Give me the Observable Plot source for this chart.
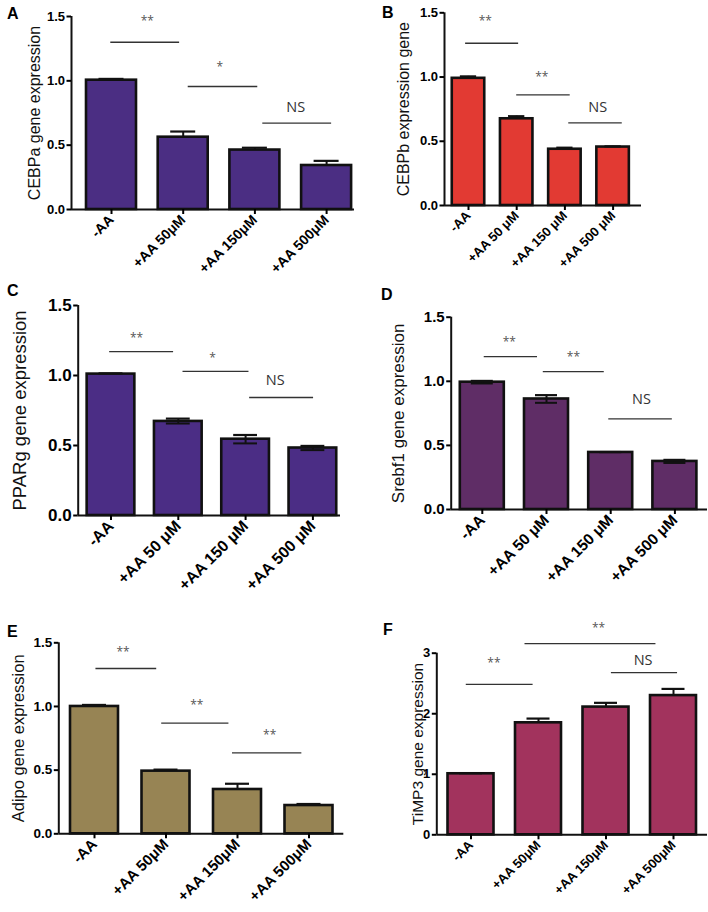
<!DOCTYPE html>
<html><head><meta charset="utf-8">
<script src="https://cdn.jsdelivr.net/npm/d3@7"></script>
<script src="https://cdn.jsdelivr.net/npm/@observablehq/plot@0.6"></script>
<style>
body{margin:0;background:#fff;}
#fig{position:relative;width:708px;height:912px;background:#fff;overflow:hidden;font-family:"Liberation Sans",Arial,sans-serif;}
.panel{position:absolute;}
.panel svg{overflow:visible;}
.letter{position:absolute;font:bold 16px "Liberation Sans",Arial,sans-serif;line-height:16px;color:#000;}
</style></head><body><div id="fig"></div>
<script>
// ---- categories ----
const groupsTight = ["-AA", "+AA 50μM", "+AA 150μM", "+AA 500μM"];
const groupsSpaced = ["-AA", "+AA 50 μM", "+AA 150 μM", "+AA 500 μM"];

// ---- series values (mean, upper error, lower error) ----
const cebpaMean = [1.005, 0.562, 0.462, 0.342];
const cebpaErrUp = [0.01, 0.044, 0.018, 0.036];
const cebpaErrLow = [0, 0, 0, 0];

const cebpbMean = [0.99, 0.675, 0.438, 0.455];
const cebpbErrUp = [0.015, 0.02, 0.012, 0.005];
const cebpbErrLow = [0, 0, 0, 0];

const ppargMean = [1.01, 0.672, 0.545, 0.482];
const ppargErrUp = [0.005, 0.02, 0.03, 0.015];
const ppargErrLow = [0, 0.015, 0.03, 0.015];

const srebf1Mean = [0.993, 0.862, 0.445, 0.375];
const srebf1ErrUp = [0.01, 0.03, 0.003, 0.012];
const srebf1ErrLow = [0.01, 0.03, 0, 0.012];

const adipoMean = [1.0, 0.492, 0.348, 0.222];
const adipoErrUp = [0.012, 0.012, 0.045, 0.012];
const adipoErrLow = [0, 0, 0, 0];

const timp3Mean = [1.008, 1.85, 2.11, 2.30];
const timp3ErrUp = [0.01, 0.07, 0.07, 0.11];
const timp3ErrLow = [0, 0, 0, 0];

// ---- significance annotations: from / to (category index), line value, label, label x, label value ----
const sigA = [
  {from: -0.01, to: 0.95, y: 1.30, label: "**", tx: 0.50, ty: 1.49},
  {from: 1.07, to: 2.04, y: 0.956, label: "*", tx: 1.51, ty: 1.13},
  {from: 2.11, to: 3.07, y: 0.671, label: "NS", tx: 2.57, ty: 0.79}
];
const sigB = [
  {from: -0.06, to: 1.04, y: 1.263, label: "**", tx: 0.35, ty: 1.455},
  {from: 1.00, to: 2.11, y: 0.861, label: "**", tx: 1.52, ty: 1.02},
  {from: 2.08, to: 3.19, y: 0.643, label: "NS", tx: 2.68, ty: 0.765}
];
const sigC = [
  {from: -0.02, to: 0.93, y: 1.171, label: "**", tx: 0.38, ty: 1.286},
  {from: 1.07, to: 2.05, y: 1.029, label: "*", tx: 1.51, ty: 1.143},
  {from: 2.06, to: 3.01, y: 0.843, label: "NS", tx: 2.44, ty: 0.964}
];
const sigD = [
  {from: 0.03, to: 0.86, y: 1.193, label: "**", tx: 0.42, ty: 1.33},
  {from: 0.95, to: 1.90, y: 1.076, label: "**", tx: 1.42, ty: 1.215},
  {from: 1.97, to: 2.96, y: 0.707, label: "NS", tx: 2.48, ty: 0.856}
];
const sigE = [
  {from: 0.02, to: 0.87, y: 1.298, label: "**", tx: 0.40, ty: 1.453},
  {from: 0.94, to: 1.88, y: 0.869, label: "**", tx: 1.43, ty: 1.034},
  {from: 1.93, to: 2.90, y: 0.636, label: "**", tx: 2.45, ty: 0.798}
];
const sigF = [
  {from: -0.07, to: 0.92, y: 2.484, label: "**", tx: 0.34, ty: 2.88},
  {from: 0.80, to: 2.74, y: 3.157, label: "**", tx: 1.89, ty: 3.46},
  {from: 2.08, to: 3.06, y: 2.678, label: "NS", tx: 2.55, ty: 2.88}
];

// ---- tick values ----
const ticks15 = [0, 0.5, 1.0, 1.5];
const ticks3 = [0, 1, 2, 3];

// ---- panels (layout & style) ----
const panels = [
  {letter: "A", lx: 7, lb: 19, groups: groupsTight, mean: cebpaMean, up: cebpaErrUp, low: cebpaErrLow, sig: sigA,
   color: "#4b2e83", ylabel: "CEBPa gene expression", yMax: 1.5, yTicks: ticks15, fmt: ".1f",
   left: 0, top: 0, width: 354, height: 300, axisX: 71, axisEnd: 354, y0: 209, yTop: 16, c0: 111, step: 71.7, barW: 50,
   yLab: 16, yLabX: 28, yTick: 13, xTick: 14},
  {letter: "B", lx: 382, lb: 18, groups: groupsSpaced, mean: cebpbMean, up: cebpbErrUp, low: cebpbErrLow, sig: sigB,
   color: "#e23a33", ylabel: "CEBPb expression gene", yMax: 1.5, yTicks: ticks15, fmt: ".1f",
   left: 354, top: 0, width: 354, height: 290, axisX: 444, axisEnd: 641, y0: 205, yTop: 12.3, c0: 468, step: 48.2, barW: 32.5,
   yLab: 16, yLabX: 397, yTick: 13, xTick: 13},
  {letter: "C", lx: 7, lb: 296, groups: groupsSpaced, mean: ppargMean, up: ppargErrUp, low: ppargErrLow, sig: sigC,
   color: "#4b2d85", ylabel: "PPARg gene expression", yMax: 1.5, yTicks: ticks15, fmt: ".1f",
   left: 0, top: 290, width: 354, height: 310, axisX: 77.7, axisEnd: 340, y0: 515, yTop: 305, c0: 110.5, step: 67.3, barW: 47.7,
   yLab: 18.5, yLabX: 12, yTick: 17, xTick: 16},
  {letter: "D", lx: 381, lb: 300, groups: groupsSpaced, mean: srebf1Mean, up: srebf1ErrUp, low: srebf1ErrLow, sig: sigD,
   color: "#5f2d66", ylabel: "Srebf1 gene expression", yMax: 1.5, yTicks: ticks15, fmt: ".1f",
   left: 354, top: 290, width: 354, height: 310, axisX: 450.7, axisEnd: 707, y0: 509, yTop: 316.7, c0: 481.8, step: 64.2, barW: 44,
   yLab: 17, yLabX: 391, yTick: 15, xTick: 15.5},
  {letter: "E", lx: 7, lb: 637, groups: groupsTight, mean: adipoMean, up: adipoErrUp, low: adipoErrLow, sig: sigE,
   color: "#978454", ylabel: "Adipo gene expression", yMax: 1.5, yTicks: ticks15, fmt: ".1f",
   left: 0, top: 600, width: 354, height: 312, axisX: 58.3, axisEnd: 343.3, y0: 833.3, yTop: 642.3, c0: 94, step: 71.5, barW: 48,
   yLab: 16.5, yLabX: 12, yTick: 13.5, xTick: 15},
  {letter: "F", lx: 383, lb: 635, groups: groupsTight, mean: timp3Mean, up: timp3ErrUp, low: timp3ErrLow, sig: sigF,
   color: "#a2335d", ylabel: "TiMP3 gene expression", yMax: 3, yTicks: ticks3, fmt: "d",
   left: 354, top: 600, width: 354, height: 312, axisX: 436.3, axisEnd: 707, y0: 834.3, yTop: 652.7, c0: 470.5, step: 67.5, barW: 46,
   yLab: 15.5, yLabX: 411, yTick: 13, xTick: 13}
];

const fig = document.getElementById("fig");
const FONT = "Liberation Sans, Arial, sans-serif";

for (const p of panels) {
  const rows = p.mean.map((v, i) => ({i, v, up: p.up[i], low: p.low[i]}));
  const lo = -(p.c0 - p.axisX) / p.step;
  const hi = 3 + (p.axisEnd - (p.c0 + 3 * p.step)) / p.step;
  const hb = p.barW / 2 / p.step;
  const ch = hb * 0.5;
  const fmt = d3.format(p.fmt);
  const stars = p.sig.filter(d => d.label !== "NS");
  const ns = p.sig.filter(d => d.label === "NS");
  const chart = Plot.plot({
    width: p.width, height: p.height,
    marginLeft: p.axisX - p.left, marginRight: p.left + p.width - p.axisEnd,
    marginTop: p.yTop - p.top, marginBottom: p.top + p.height - p.y0,
    x: {type: "linear", domain: [lo, hi]},
    y: {domain: [0, p.yMax]},
    style: {fontFamily: FONT, background: "transparent", overflow: "visible", color: "#000"},
    marks: [
      Plot.rect(rows, {x1: d => d.i - hb, x2: d => d.i + hb, y1: 0, y2: "v", fill: p.color, stroke: "#111", strokeWidth: 2.6}),
      Plot.ruleX(rows, {x: "i", y1: d => d.v - d.low, y2: d => d.v + d.up, stroke: "#111", strokeWidth: 2}),
      Plot.ruleY(rows, {y: d => d.v + d.up, x1: d => d.i - ch, x2: d => d.i + ch, stroke: "#111", strokeWidth: 2.2}),
      Plot.ruleY(rows.filter(d => d.low > 0), {y: d => d.v - d.low, x1: d => d.i - ch, x2: d => d.i + ch, stroke: "#111", strokeWidth: 2}),
      Plot.ruleY([0], {stroke: "#111", strokeWidth: 2}),
      Plot.ruleX([lo], {y1: 0, y2: p.yMax, stroke: "#111", strokeWidth: 2}),
      Plot.axisY({ticks: p.yTicks, tickFormat: fmt, tickSize: 4.5, tickPadding: 2, strokeWidth: 2,
        fontSize: p.yTick, fontWeight: "bold", fontFamily: FONT, label: null}),
      Plot.axisX({ticks: [0, 1, 2, 3], tickFormat: i => p.groups[i], tickSize: 5, tickPadding: 3, strokeWidth: 2,
        tickRotate: -45, fontSize: p.xTick, fontWeight: "bold", fontFamily: FONT, label: null}),
      Plot.text([p.ylabel], {frameAnchor: "left", dx: p.yLabX - p.axisX, rotate: -90, textAnchor: "middle", lineAnchor: "top",
        fontSize: p.yLab, fontFamily: FONT, fill: "#111"}),
      Plot.ruleY(p.sig, {y: "y", x1: "from", x2: "to", stroke: "#333", strokeWidth: 1.3}),
      Plot.text(stars, {x: "tx", y: "ty", text: "label", dy: 3, fontSize: 12, fontFamily: "Open Sans, DejaVu Sans, sans-serif", fill: "#555"}),
      Plot.text(ns, {x: "tx", y: "ty", text: "label", fontSize: 14.5, fontFamily: "Open Sans, DejaVu Sans, sans-serif", fill: "#333"})
    ]
  });
  const wrap = document.createElement("div");
  wrap.className = "panel";
  wrap.style.left = p.left + "px";
  wrap.style.top = p.top + "px";
  wrap.appendChild(chart);
  fig.appendChild(wrap);

  const L = document.createElement("div");
  L.className = "letter";
  L.textContent = p.letter;
  L.style.left = p.lx + "px";
  L.style.top = (p.lb - 13.5) + "px";
  fig.appendChild(L);
}
</script></body></html>
